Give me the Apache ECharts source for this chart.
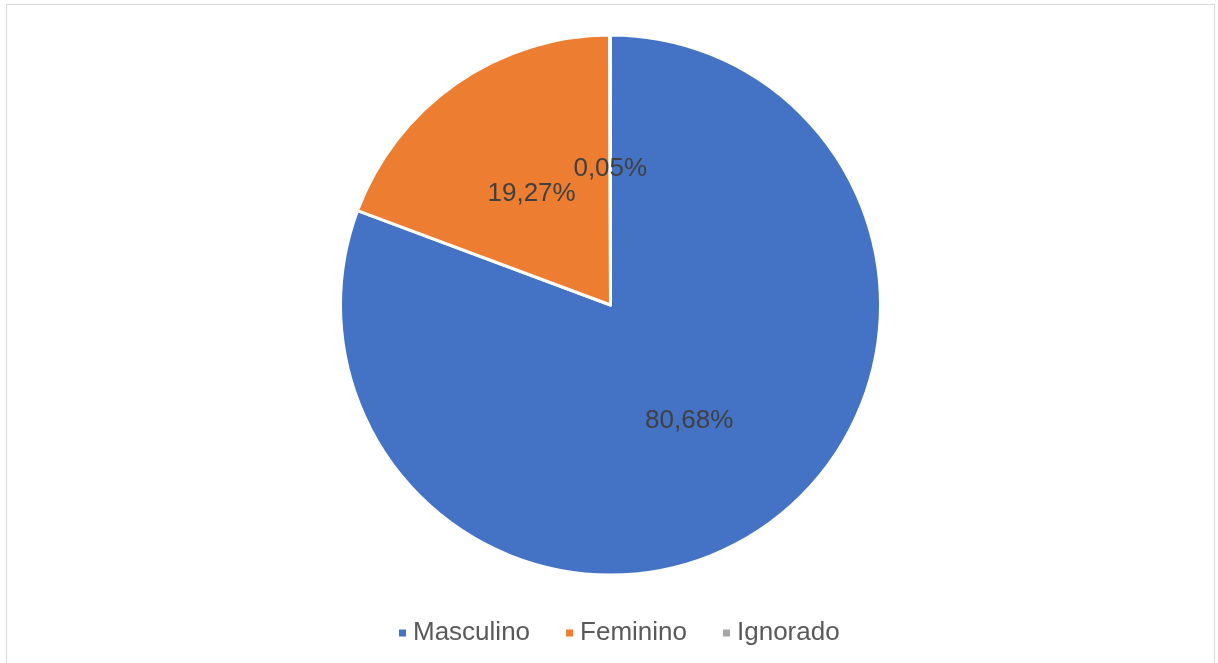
<!DOCTYPE html>
<html>
<head>
<meta charset="utf-8">
<script src="https://cdn.jsdelivr.net/npm/echarts@6/dist/echarts.min.js"></script>
<style>
html,body{margin:0;padding:0;background:#fff;}
#frame{position:absolute;left:6px;top:4px;width:1209px;height:680px;border:1.5px solid #d9d9d9;box-sizing:border-box;}
#chart{position:absolute;left:0;top:0;width:1218px;height:663px;}
</style>
</head>
<body>
<div id="frame"></div>
<div id="chart"></div>
<script>
const categories = ["Masculino", "Feminino", "Ignorado"];
const values = [80.68, 19.27, 0.05];
const colors = ["#4472C4", "#ED7D31", "#A5A5A5"];

const chart = echarts.init(document.getElementById('chart'), null, {renderer: 'canvas'});
chart.setOption({
  animation: false,
  color: colors,
  legend: {
    data: categories,
    left: 392,
    top: 615,
    itemWidth: 9,
    itemHeight: 9,
    itemGap: 34,
    icon: 'rect',
    textStyle: {fontFamily: 'Liberation Sans, Arial, sans-serif', fontSize: 26, color: '#595959', padding: [0, 0, 0, 1]}
  },
  series: [{
    type: 'pie',
    center: [610.5, 305],
    radius: [0, 270],
    startAngle: 90,
    clockwise: true,
    avoidLabelOverlap: false,
    minShowLabelAngle: 0,
    itemStyle: {borderColor: '#ffffff', borderWidth: 3},
    label: {
      show: true,
      position: 'inside',
      offset: [0, 2],
      fontFamily: 'Liberation Sans, Arial, sans-serif',
      fontSize: 26,
      color: '#404040',
      formatter: p => p.value.toFixed(2).replace('.', ',') + '%'
    },
    labelLayout: {hideOverlap: false, moveOverlap: null},
    labelLine: {show: false},
    emphasis: {disabled: true},
    data: categories.map((c, i) => ({name: c, value: values[i]}))
  }]
});
</script>
</body>
</html>
